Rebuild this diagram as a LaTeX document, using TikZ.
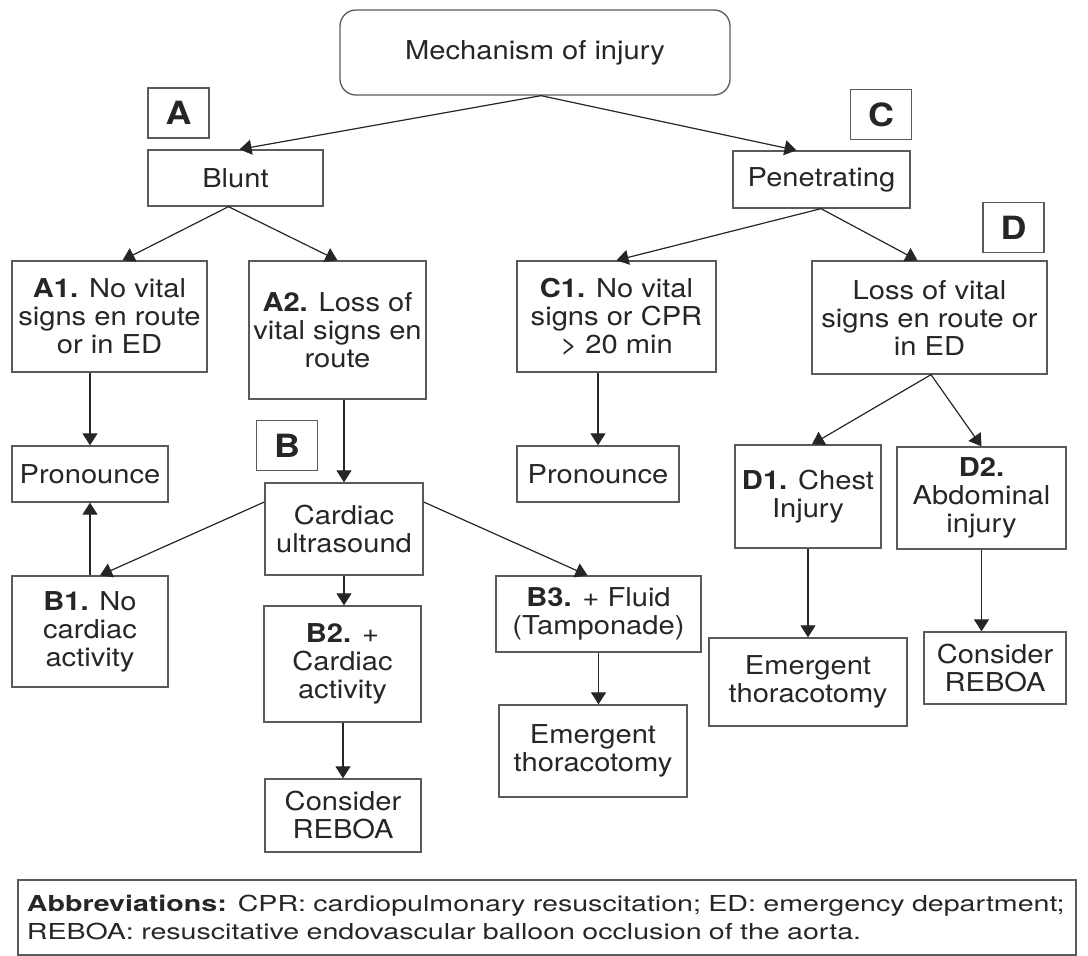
\documentclass[tikz,border=0pt]{standalone}
\usepackage{fontspec}
\setmainfont[FakeStretch=1.12]{TeX Gyre Heros}
\newfontfamily\abbrfont[FakeStretch=1.3]{TeX Gyre Heros}
\usetikzlibrary{arrows.meta, positioning, calc}
\definecolor{linegray}{HTML}{5A5A5A}
\definecolor{inkgray}{HTML}{262626}

\begin{document}
\begin{tikzpicture}[
  x=1pt, y=-1pt,
  box/.style = {draw=linegray, line width=1.3pt, text=inkgray, align=center, inner sep=2pt, font=\fontsize{26}{28}\selectfont},
  tag/.style = {draw=linegray, line width=1.3pt, text=inkgray, minimum width=61pt, minimum height=50pt, inner sep=0pt, font=\fontsize{32}{36}\selectfont\bfseries},
  flow/.style = {draw=inkgray, line width=1.2pt, -{Triangle[width=15pt,length=12pt]}}
]

% Frame
\useasboundingbox (0,0) rectangle (1088,956);

% Top
\node[box, rounded corners=16pt, minimum width=390pt, minimum height=85pt] (mech) at (535,52.5) {Mechanism of injury};

% Blunt side
\node[tag] (tagA) at (178.5,113) {A};
\node[box, minimum width=175pt, minimum height=56pt] (blunt) at (235.5,178) {Blunt};
\node[box, minimum width=195pt, minimum height=111pt] (a1) at (109.5,316.5) {\textbf{A1.} No vital\\signs en route\\or in ED};
\node[box, minimum width=177pt, minimum height=138pt] (a2) at (337.5,330) {\textbf{A2.} Loss of\\vital signs en\\route};
\node[box, minimum width=156pt, minimum height=56pt] (pronA) at (90,474) {Pronounce};
\node[tag] (tagB) at (287,445.5) {B};
\node[box, minimum width=158pt, minimum height=92pt] (card) at (344,529) {Cardiac\\ultrasound};
\node[box, minimum width=156pt, minimum height=111pt] (b1) at (90,631.5) {\textbf{B1.} No\\cardiac\\activity};
\node[box, minimum width=157pt, minimum height=116pt] (b2) at (342.5,664) {\textbf{B2.} +\\Cardiac\\activity};
\node[box, minimum width=156pt, minimum height=73pt] (rebB) at (343,815.5) {Consider\\REBOA};
\node[box, minimum width=205pt, minimum height=76pt] (b3) at (598.5,614) {\textbf{B3.} + Fluid\\(Tamponade)};
\node[box, minimum width=188pt, minimum height=92pt] (etB) at (593,751) {Emergent\\thoracotomy};

% Penetrating side
\node[tag] (tagC) at (881,114.5) {C};
\node[box, minimum width=177pt, minimum height=57pt] (pen) at (821.5,179.5) {Penetrating};
\node[box, minimum width=199pt, minimum height=111pt] (c1) at (616.5,316.5) {\textbf{C1.} No vital\\signs or CPR\\> 20 min};
\node[box, minimum width=162pt, minimum height=56pt] (pronC) at (598,474) {Pronounce};
\node[tag] (tagD) at (1013.5,227.5) {D};
\node[box, minimum width=235pt, minimum height=113pt] (dlos) at (929.5,317.5) {Loss of vital\\signs en route or\\in ED};
\node[box, minimum width=146pt, minimum height=103pt] (d1) at (808,496.5) {\textbf{D1.} Chest\\Injury};
\node[box, minimum width=169pt, minimum height=102pt] (d2) at (981.5,498) {\textbf{D2.}\\Abdominal\\injury};
\node[box, minimum width=198pt, minimum height=88pt] (etD) at (808,682) {Emergent\\thoracotomy};
\node[box, minimum width=142pt, minimum height=72pt] (rebD) at (995,668) {Consider\\REBOA};

% Abbreviations
\node[box, minimum width=1058pt, minimum height=75pt, text width=1040pt, inner xsep=9pt, align=left, font=\abbrfont\fontsize{22}{28}\selectfont] (abbr) at (547,917.5)
  {\textbf{Abbreviations:} CPR: cardiopulmonary resuscitation; ED: emergency department;\\REBOA: resuscitative endovascular balloon occlusion of the aorta.};

% Arrows
\draw[flow] ([xshift=6pt]mech.south) -- ([xshift=4pt]blunt.north);
\draw[flow] ([xshift=6pt]mech.south) -- ([xshift=-25pt]pen.north);
\draw[flow] ([xshift=-7pt]blunt.south) -- ([xshift=13pt]a1.north);
\draw[flow] ([xshift=-7pt]blunt.south) -- (a2.north);
\draw[flow] (pronA.north |- a1.south) -- (pronA.north);
\draw[flow] (card.north |- a2.south) -- (card.north);
\draw[flow] ([yshift=27pt]card.west) -- ([xshift=10pt]b1.north);
\draw[flow] ([yshift=27pt]card.east) -- ([xshift=-11pt]b3.north);
\draw[flow] (card.south) -- (card.south |- b2.north);
\draw[flow] (b1.north) -- (b1.north |- pronA.south);
\draw[flow] (rebB.north |- b2.south) -- (rebB.north);
\draw[flow] (b3.south) -- (b3.south |- etB.north);
\draw[flow] ([xshift=-0.5pt]pen.south) -- (c1.north);
\draw[flow] ([xshift=-0.5pt]pen.south) -- ([xshift=-12pt]dlos.north);
\draw[flow] (pronC.north |- c1.south) -- (pronC.north);
\draw[flow] ([xshift=1.5pt]dlos.south) -- ([xshift=4pt]d1.north);
\draw[flow] ([xshift=1.5pt]dlos.south) -- (d2.north);
\draw[flow] (d1.south) -- (etD.north);
\draw[flow] (d2.south) -- (d2.south |- rebD.north);

\end{tikzpicture}
\end{document}
